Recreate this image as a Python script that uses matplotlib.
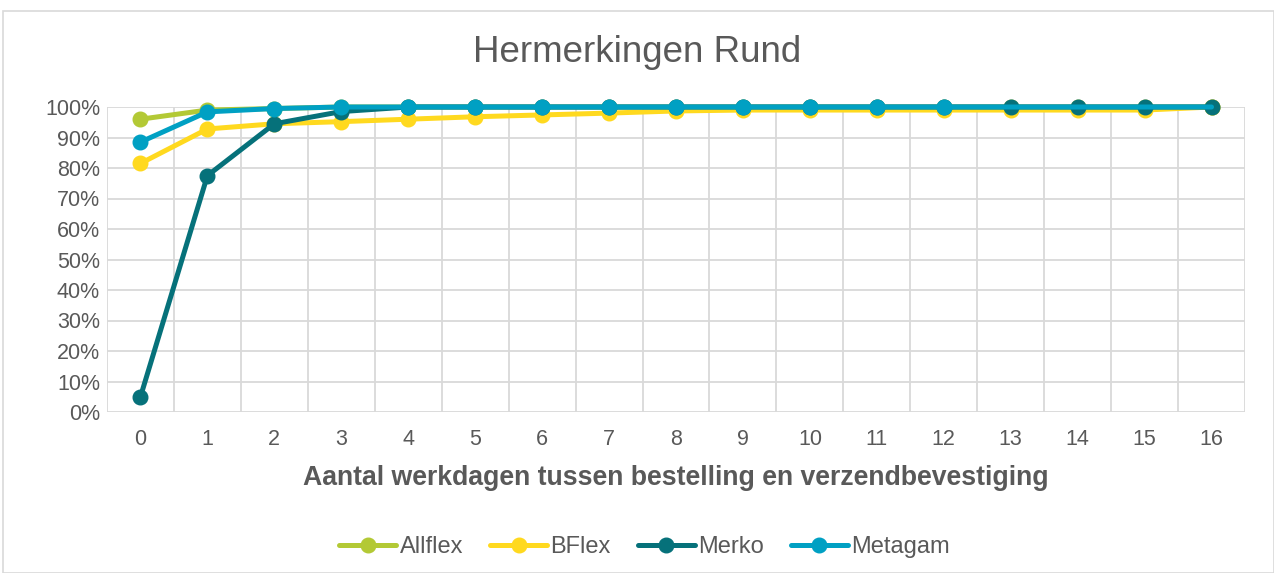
import matplotlib.pyplot as plt
from matplotlib.patches import Rectangle
from matplotlib.ticker import FixedLocator, PercentFormatter

plt.rcParams['font.family'] = ['Liberation Sans', 'DejaVu Sans']

days = list(range(17))
allflex = [0.96, 0.99, 0.995] + [1.0] * 14
bflex = [0.815, 0.928, 0.945, 0.952, 0.96, 0.968, 0.974, 0.98, 0.987,
         0.99, 0.99, 0.99, 0.99, 0.99, 0.99, 0.99, 1.0]
merko = [0.05, 0.775, 0.945, 0.985] + [1.0] * 13
metagam = [0.885, 0.984, 0.995] + [1.0] * 14

series = [
    ("Allflex", allflex, "#B3C935", None),
    ("BFlex", bflex, "#FFD91F", None),
    ("Merko", merko, "#06717A", None),
    ("Metagam", metagam, "#00A0C3", list(range(13))),
]

grey = "#595959"
grid = "#D9D9D9"

fig = plt.figure(figsize=(12.74, 5.73), dpi=100)
fig.patches.append(Rectangle((3 / 1274, 0), 1 - 3 / 1274, 1 - 11 / 573,
                             transform=fig.transFigure, fill=False,
                             edgecolor=grid, linewidth=1.2))

ax = fig.add_axes([107 / 1274, 1 - 412 / 573, (1245 - 107) / 1274, (412 - 107) / 573])

for name, vals, col, mk in series:
    ax.plot(days, vals, color=col, lw=3.6, marker="o", ms=10.5,
            markevery=mk, label=name, solid_capstyle="round", zorder=3,
            clip_on=False)

ax.set_xlim(-0.5, 16.5)
ax.set_ylim(0, 1)
ax.set_xticks(days)
ax.xaxis.set_minor_locator(FixedLocator([d - 0.5 for d in days] + [16.5]))
ax.set_yticks([i / 10 for i in range(11)])
ax.yaxis.set_major_formatter(PercentFormatter(1.0, decimals=0))
ax.grid(True, which="major", axis="y", color=grid, lw=1.3)
ax.grid(True, which="minor", axis="x", color=grid, lw=1.3)
ax.tick_params(which="both", length=0, labelsize=15.5, colors=grey)
ax.tick_params(axis="x", pad=12)
ax.tick_params(axis="y", pad=5)
for s in ax.spines.values():
    s.set_visible(False)
ax.set_axisbelow(True)

ax.set_xlabel("Aantal werkdagen tussen bestelling en verzendbevestiging",
              fontsize=19.2, fontweight="bold", color=grey, va="center")
ax.xaxis.set_label_coords(0.5, -(478 - 412) / 305)
fig.text(0.5, 1 - 53 / 573, "Hermerkingen Rund", ha="center", va="center",
         fontsize=26.5, color=grey)

fig.legend(loc="center", bbox_to_anchor=(0.506, 1 - 547 / 573), ncol=4,
           frameon=False, fontsize=17, handlelength=2.4, columnspacing=1.15,
           handletextpad=0.15, labelcolor=grey)

fig.savefig("out.png", dpi=100)
